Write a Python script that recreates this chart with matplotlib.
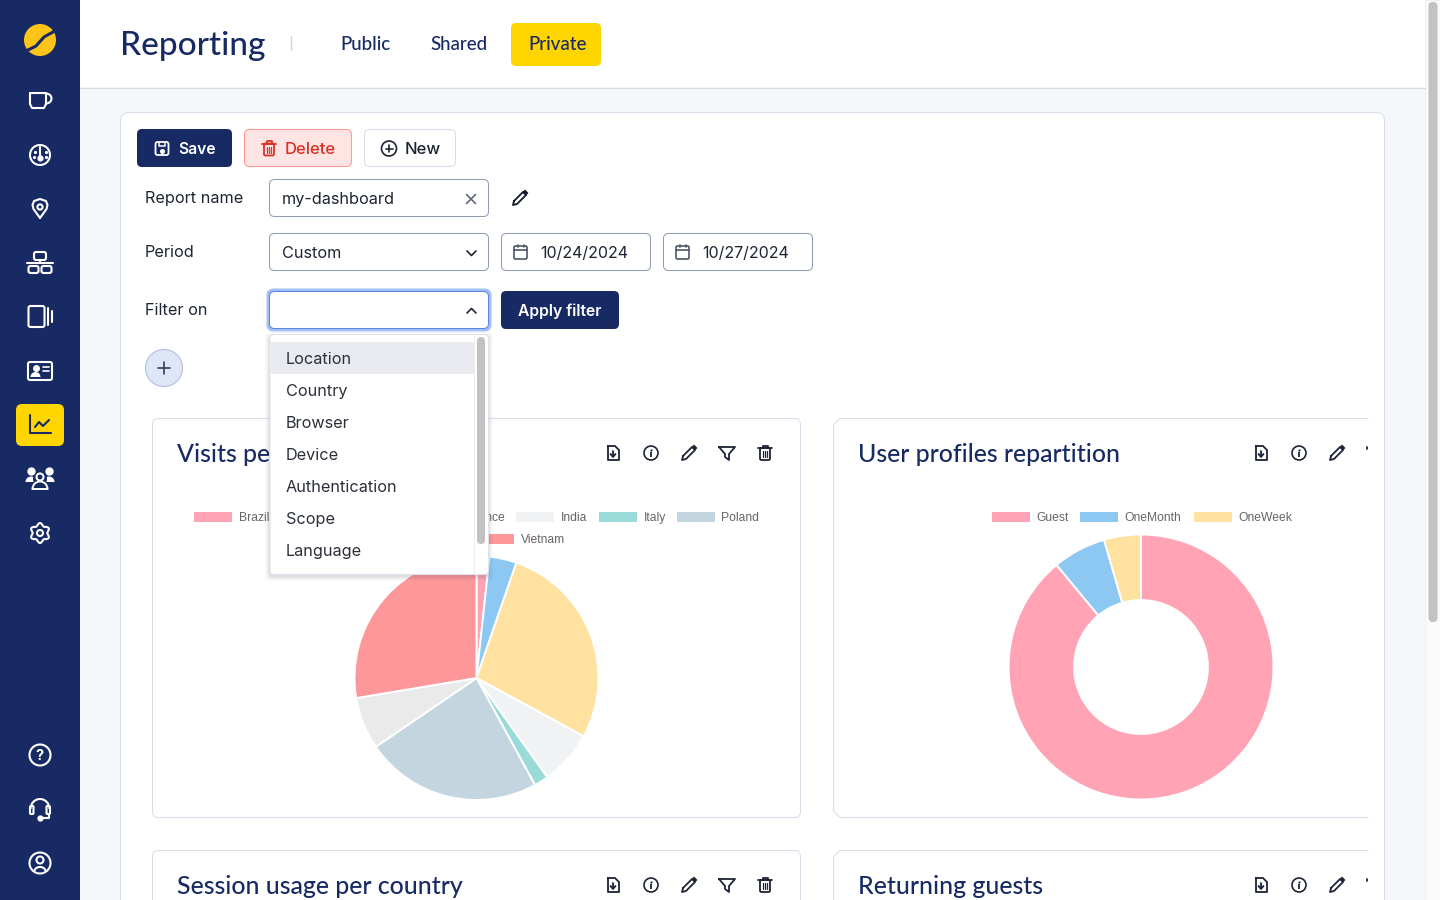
import matplotlib
matplotlib.use("Agg")
import matplotlib.pyplot as plt
import numpy as np
from matplotlib.patches import FancyBboxPatch, Rectangle, Circle, Polygon, Wedge, Arc

NAVY = "#172a63"
YELLOW = "#ffd500"
INK = "#1d2433"
BORDER = "#929db5"
SOFT = "#d8deea"

# pie data, percent of the total
# two legend names sit behind the dropdown and cannot be read, so they stay blank
visits_labels = ["Brazil", "", "France", "India", "Italy", "Poland", "", "Vietnam"]
visits_values = [1.7, 3.6, 27.6, 7.2, 1.9, 23.4, 6.9, 27.6]
visits_colors = ["#ffa3b5", "#8dc8f3", "#ffe1a0", "#f1f2f4", "#9adbd9", "#c3d6df", "#eaeaea", "#fd9799"]

profile_labels = ["Guest", "OneMonth", "OneWeek"]
profile_values = [89.0, 6.5, 4.5]
profile_colors = ["#ffa3b5", "#8dc8f3", "#ffe1a0"]

filter_options = ["Location", "Country", "Browser", "Device", "Authentication", "Scope", "Language"]
nav_tabs = ["Public", "Shared", "Private"]

fig = plt.figure(figsize=(14.4, 9), dpi=100, facecolor="#f5f7fb")


def layer(z):
    ax = fig.add_axes([0, 0, 1, 1], zorder=z)
    ax.set_xlim(0, 1440)
    ax.set_ylim(900, 0)
    ax.axis("off")
    ax.patch.set_alpha(0)
    return ax


base = layer(0)
top = layer(3)


def box(ax, x, y, w, h, r=5, fc="white", ec="none", lw=0.75, z=2, alpha=None):
    p = FancyBboxPatch((x + r, y + r), w - 2 * r, h - 2 * r, boxstyle=f"round,pad={r},rounding_size={r}",
                       fc=fc, ec=ec, lw=lw, zorder=z, alpha=alpha)
    ax.add_patch(p)
    return p


def label(ax, x, y, s, size=11.7, color=INK, family="Inter", weight="normal", ha="left", z=6):
    ax.text(x, y, s, fontsize=size, color=color, family=family, weight=weight, ha=ha, va="center", zorder=z)


def line(ax, xs, ys, color="white", lw=1.5, z=5):
    ax.plot(xs, ys, color=color, lw=lw, solid_capstyle="round", solid_joinstyle="round", zorder=z, clip_on=False)


def ring(ax, x, y, r, color="white", lw=1.5, z=5):
    ax.add_patch(Circle((x, y), r, fc="none", ec=color, lw=lw, zorder=z))


def rrect(ax, x, y, w, h, r=2, color="white", lw=1.5, z=5):
    box(ax, x, y, w, h, r=r, fc="none", ec=color, lw=lw, z=z)


def pencil(ax, x, y, color=INK):
    line(ax, [x - 6, x - 7, x - 3, x + 6, x + 3, x - 6], [y + 3, y + 7, y + 6, y - 3, y - 6, y + 3], color, 1.3, 7)
    ax.add_patch(Polygon([[x + 3, y - 6], [x + 5, y - 8], [x + 8, y - 5], [x + 6, y - 3]], fc=color, ec=color, lw=0.5, zorder=7))


def trash(ax, x, y, color=INK):
    rrect(ax, x - 5, y - 5, 10, 12, 1.5, color, 1.3, 7)
    line(ax, [x - 7, x + 7], [y - 5, y - 5], color, 1.3, 7)
    line(ax, [x - 2.5, x - 2.5, x + 2.5, x + 2.5], [y - 5, y - 7.5, y - 7.5, y - 5], color, 1.3, 7)
    for dx in (-2, 0, 2):
        line(ax, [x + dx, x + dx], [y - 2, y + 4], color, 0.9, 7)


def card_icons(ax, y, x0):
    # file, info, pencil, funnel, trash at 38 px steps
    x = x0
    line(ax, [x - 5, x + 2, x + 6, x + 6, x - 5, x - 5], [y - 7, y - 7, y - 3, y + 7, y + 7, y - 7], INK, 1.3, 7)
    line(ax, [x, x], [y - 2, y + 3], INK, 1.3, 7)
    line(ax, [x - 2.5, x, x + 2.5], [y + 1, y + 4, y + 1], INK, 1.3, 7)
    x += 38
    ring(ax, x, y, 7, INK, 1.2, 7)
    ax.plot([x, x], [y - 0.8, y + 3.8], color=INK, lw=1.3, solid_capstyle="butt", zorder=7)
    ax.plot([x], [y - 3.4], "o", ms=1.6, color=INK, mew=0, zorder=7)
    pencil(ax, x + 38, y)
    x += 76
    if x + 7 <= 1368:
        line(ax, [x - 8, x + 8, x + 2, x + 2, x - 2, x - 2, x - 8], [y - 6, y - 6, y + 1, y + 7, y + 4, y + 1, y - 6], INK, 1.3, 7)
    else:
        line(ax, [1367, 1367], [y - 6, y - 4], INK, 1.3, 7)
    x += 38
    if x + 7 <= 1368:
        trash(ax, x, y)


# top bar and right scrollbar
base.add_patch(Rectangle((80, 0), 1345, 87, fc="white", ec="none", zorder=1))
line(base, [80, 1425], [87.5, 87.5], "#d8dbe3", 0.75, 2)
label(base, 120, 46, "Reporting", 24, NAVY, "Lato", "medium")
line(base, [290.5, 290.5], [36, 50], "#ced4e0", 1, 3)
box(base, 511, 23, 90, 43, r=5, fc=YELLOW)
for tab, tx in zip(nav_tabs, [340, 430, 528]):
    label(base, tx, 44.5, tab, 13.5, NAVY, "Lato", "medium")
base.add_patch(Rectangle((1425, 0), 15, 900, fc="#fafafa", ec="#eeeeee", lw=0.6, zorder=1))
box(base, 1428.5, 2, 9, 620, r=4, fc="#c2c2c2")

# sidebar
base.add_patch(Rectangle((0, 0), 80, 900, fc=NAVY, ec="none", zorder=8))
s = dict(z=9)
base.add_patch(Circle((40, 40), 16, fc="#fdc41a", ec="none", zorder=9))
base.plot([28, 36, 44, 53], [50, 46, 37, 32], color=NAVY, lw=2.2, zorder=10)
line(base, [30, 46, 46, 44, 32, 30, 30], [93, 93, 104, 108, 108, 104, 93], **s)
base.add_patch(Arc((46, 98.5), 11, 10, theta1=-90, theta2=90, ec="white", lw=1.5, zorder=9))
ring(base, 40, 155, 10, **s)
line(base, [40, 40], [147, 158], **s)
base.plot([40], [158], "o", ms=3.5, color="white", zorder=9)
for dx, dy in [(-5.5, -3), (5.5, -3), (-6, 2), (6, 2)]:
    base.plot([40 + dx], [155 + dy], "o", ms=1.3, color="white", zorder=9)
line(base, [40, 33.5, 32.5, 34, 40, 46, 47.5, 46.5, 40], [218, 209, 205, 201, 199, 201, 205, 209, 218], **s)
ring(base, 40, 207, 2.6, **s)
rrect(base, 34, 252, 12, 8, 2, **s)
rrect(base, 28.5, 266, 10, 7, 2, **s)
rrect(base, 41.5, 266, 10, 7, 2, **s)
line(base, [27, 53], [263, 263], **s)
line(base, [40, 40], [260, 263], **s)
rrect(base, 28.5, 306, 16, 21, 2, **s)
line(base, [47.5, 47.5], [308, 325], **s)
line(base, [51.5, 51.5], [311, 322], **s)
rrect(base, 28, 362, 24, 18, 2, **s)
base.plot([35.5], [368], "o", ms=4, color="white", zorder=9)
base.add_patch(Wedge((35.5, 377), 5, 180, 360, fc="white", ec="none", zorder=9))
for yy in (367, 371):
    line(base, [43, 49], [yy, yy], lw=1.2, z=9)
box(base, 16, 404, 48, 42, r=6, fc=YELLOW, z=9)
line(base, [30, 30, 51], [415, 433, 433], NAVY, 1.5, 10)
line(base, [35, 39, 43, 49], [427, 422, 426, 420], NAVY, 1.5, 10)
for cx, cy in [(31, 471), (49, 471)]:
    base.plot([cx], [cy], "o", ms=5, color="white", zorder=9)
    base.add_patch(Wedge((cx, cy + 11), 5.5, 180, 360, fc="white", ec="none", zorder=9))
base.add_patch(Circle((40, 479), 7, fc=NAVY, ec="none", zorder=10))
ring(base, 40, 477, 3.5, z=11)
base.add_patch(Wedge((40, 489), 7.5, 180, 360, fc=NAVY, ec="white", lw=1.4, zorder=11))
t = np.linspace(0, 2 * np.pi, 120)
rad = 8.6 + 1.3 * np.cos(6 * t)
line(base, 40 + rad * np.sin(t), 533 + rad * np.cos(t), **s)
ring(base, 40, 533, 3, **s)
ring(base, 40, 755, 10.5, **s)
base.text(40, 755.5, "?", color="white", fontsize=10.5, weight="bold", ha="center", va="center", zorder=9, family="Inter")
base.add_patch(Arc((40, 809), 19, 20, theta1=180, theta2=360, ec="white", lw=1.5, zorder=9))
rrect(base, 30, 806, 3.5, 8, 1, **s)
rrect(base, 46.5, 806, 3.5, 8, 1, **s)
line(base, [49, 49, 40], [814, 818, 818], **s)
base.plot([40], [818], "o", ms=3.5, color="white", zorder=9)
ring(base, 40, 863, 10.5, **s)
ring(base, 40, 860, 3.5, **s)
base.add_patch(Arc((40, 871), 11, 8, theta1=180, theta2=360, ec="white", lw=1.5, zorder=9))

# main panel
box(base, 120.5, 112.5, 1264, 900, r=8, fc="white", ec=SOFT, z=1)

# toolbar buttons
box(base, 137, 129, 95, 38, r=5, fc=NAVY)
rrect(base, 155.5, 142, 13, 13, 2, "white", 1.3, 5)
base.plot([162], [150.5], "o", ms=2.6, color="white", zorder=5)
line(base, [159, 159, 165, 165], [142, 145.5, 145.5, 142], "white", 1.1, 5)
label(base, 178, 149.5, "Save", 11.3, "white", weight="semibold")
box(base, 244.5, 129.5, 107, 37, r=5, fc="#fee5e3", ec="#fc9b95")
trash(base, 269, 148.5, "#de2f26")
label(base, 285, 149.5, "Delete", 12, "#de2f26", weight="medium")
box(base, 364.5, 129.5, 91, 37, r=5, ec=SOFT)
ring(base, 389, 148.5, 7.5, INK, 1.2, 5)
line(base, [385.5, 392.5], [148.5, 148.5], INK, 1.2, 5)
line(base, [389, 389], [145, 152], INK, 1.2, 5)
label(base, 405, 149.5, "New", 12, INK, weight="medium")

# form rows
label(base, 145, 198.5, "Report name")
label(base, 145, 252.5, "Period")
label(base, 145, 310.5, "Filter on")
box(base, 269.5, 179.5, 219, 37, r=5, ec=BORDER)
label(base, 282, 199.5, "my-dashboard")
line(base, [466.5, 475.5], [194.5, 203.5], "#5e6779", 1.2, 6)
line(base, [466.5, 475.5], [203.5, 194.5], "#5e6779", 1.2, 6)
pencil(base, 520, 198, "#111827")
box(base, 269.5, 233.5, 219, 37, r=5, ec=BORDER)
label(base, 282, 253.5, "Custom")
line(base, [467, 471.5, 476], [251, 255.5, 251], INK, 1.2, 6)
for x0, date in [(501.5, "10/24/2024"), (663.5, "10/27/2024")]:
    box(base, x0, 233.5, 149, 37, r=5, ec=BORDER)
    rrect(base, x0 + 12.5, 246, 13, 13, 1.5, "#4e586b", 1.2, 6)
    line(base, [x0 + 12.5, x0 + 25.5], [249.5, 249.5], "#4e586b", 1.2, 6)
    line(base, [x0 + 16, x0 + 16], [244.5, 247], "#4e586b", 1.2, 6)
    line(base, [x0 + 22, x0 + 22], [244.5, 247], "#4e586b", 1.2, 6)
    label(base, x0 + 38.5, 253.5, date, 11.5)
box(base, 266.5, 288.5, 225, 43, r=7, fc="#a3c0f7", z=2)
box(base, 269.5, 291.5, 219, 37, r=5, ec="#5b84e0", z=3)
line(base, [467, 471.5, 476], [313, 308.5, 313], INK, 1.2, 6)
box(base, 501, 291, 118, 38, r=5, fc=NAVY)
label(base, 518, 311.5, "Apply filter", 11.3, "white", weight="semibold")
base.add_patch(Circle((164, 368), 18.5, fc="#dfe6f7", ec="#a9b9e4", lw=0.75, zorder=3))
line(base, [158, 170], [368, 368], "#33415f", 1.2, 5)
line(base, [164, 164], [362, 374], "#33415f", 1.2, 5)

# cards
box(base, 152.5, 418.5, 648, 399, r=6, ec=SOFT, z=2)
base.plot([1368, 840, 833.5, 833.5, 840, 1368], [418.5, 418.5, 425, 811, 817.5, 817.5], color=SOFT, lw=0.75, zorder=2)
box(base, 152.5, 850.5, 648, 200, r=6, ec=SOFT, z=2)
base.plot([1368, 840, 833.5, 833.5], [850.5, 850.5, 857, 900], color=SOFT, lw=0.75, zorder=2)
for x0, yy, title in [(177, 454.5, "Visits pe"), (858, 454.5, "User profiles repartition"),
                      (177, 886.5, "Session usage per country"), (858, 886.5, "Returning guests")]:
    label(base, x0, yy, title, 17.9, NAVY, "Lato", "medium", z=4)
for x0 in (613, 1261):
    card_icons(base, 453, x0)
    card_icons(base, 885, x0)

# legends
LEG = "#666666"
rows = [(visits_labels, visits_colors, [(194, 517), (276, 517), (423, 517), (516, 517), (599, 517), (677, 517), (389, 539), (476, 539)]),
        (profile_labels, profile_colors, [(992, 517), (1080, 517), (1194, 517)])]
for names, cols, spots in rows:
    for nm, c, (lx, ly) in zip(names, cols, spots):
        base.add_patch(Rectangle((lx, ly - 5), 38, 10, fc=c, ec="none", zorder=3))
        if nm:
            label(base, lx + 44.5, ly + 0.8, nm, 8.7, LEG, "Liberation Sans", z=4)


def pie_axes(cx, cy, r):
    ax = fig.add_axes([(cx - r) / 1440, 1 - (cy + r) / 900, 2 * r / 1440, 2 * r / 900], zorder=1)
    ax.patch.set_alpha(0)
    return ax


pie1 = pie_axes(476.5, 678, 122)
pie1.pie(visits_values, colors=visits_colors, startangle=90, counterclock=False, radius=1,
         wedgeprops=dict(edgecolor="white", linewidth=1.4))
pie1.set_xlim(-1, 1)
pie1.set_ylim(-1, 1)

pie2 = pie_axes(1141, 667, 132.5)
pie2.pie(profile_values, colors=profile_colors, startangle=90, counterclock=False, radius=1,
         wedgeprops=dict(width=0.495, edgecolor="white", linewidth=1.4))
pie2.set_xlim(-1, 1)
pie2.set_ylim(-1, 1)

# open dropdown
for grow, al in [(5, 0.03), (3, 0.05), (1.5, 0.07)]:
    box(top, 270 - grow, 335 - grow + 2, 218 + 2 * grow, 239 + 2 * grow, r=5, fc="#2a3350", alpha=al, z=1)
box(top, 270, 334.5, 218.5, 240, r=4, ec="#dfe2ea", z=2)
top.add_patch(Rectangle((270.5, 342), 203, 32, fc="#e9eaef", ec="none", zorder=3))
line(top, [473.5, 473.5], [335, 574], "#eeeeee", 0.75, 3)
box(top, 477, 337, 8, 207, r=4, fc="#c2c2c2", z=4)
for i, opt in enumerate(filter_options):
    label(top, 286, 359.5 + 32 * i, opt, 11.7, "#2a2f3a")

fig.savefig("out.png", dpi=100, facecolor=fig.get_facecolor())
